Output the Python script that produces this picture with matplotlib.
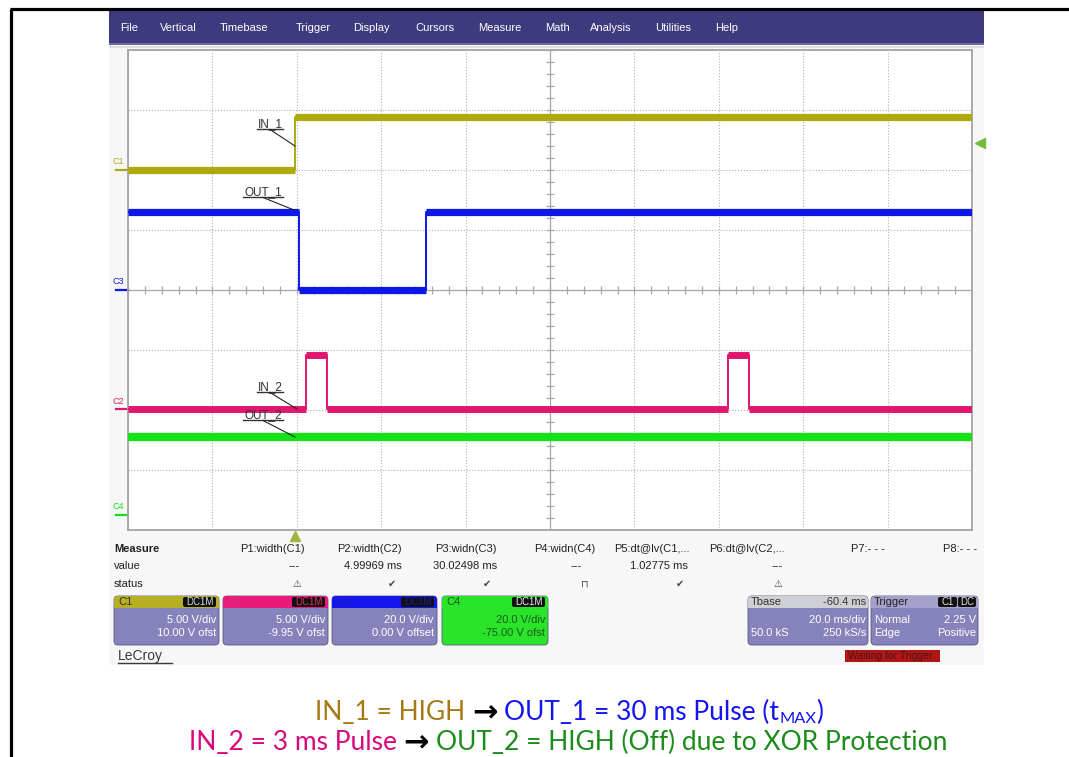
import numpy as np
import matplotlib
matplotlib.use("Agg")
import matplotlib.pyplot as plt
from matplotlib.patches import FancyBboxPatch, Rectangle
from matplotlib.collections import LineCollection

# ------------------------------------------------------------------ data
menu_items = ["File", "Vertical", "Timebase", "Trigger", "Display", "Cursors",
              "Measure", "Math", "Analysis", "Utilities", "Help"]
time_per_div = 20.0      # ms/div
tbase = -60.4            # ms
n_xdiv, n_ydiv = 10, 8
trigger_level = 2.25     # V on C1

channels = ["C1", "C2", "C3", "C4"]
volts_per_div = [5.0, 5.0, 20.0, 20.0]
offsets = [10.0, -9.95, 0.0, -75.0]
vdiv_labels = ["5.00 V/div", "5.00 V/div", "20.0 V/div", "20.0 V/div"]
offset_labels = ["10.00 V ofst", "-9.95 V ofst", "0.00 V offset", "-75.00 V ofst"]

# waveforms: edge times (ms, trigger = 0) and the level (V) held between edges
c1_edges = [0.0]
c1_levels = [0.0, 4.4]
c2_edges = [2.5, 7.5, 102.6, 107.6]
c2_levels = [0.0, 4.5, 0.0, 4.5, 0.0]
c3_edges = [1.03, 31.05]
c3_levels = [26.0, 0.0, 26.0]
c4_edges = []
c4_levels = [26.0]

meas_names = ["P1:width(C1)", "P2:width(C2)", "P3:widn(C3)", "P4:widn(C4)",
              "P5:dt@lv(C1,...", "P6:dt@lv(C2,...", "P7:- - -", "P8:- - -"]
meas_values = ["---", "4.99969 ms", "30.02498 ms", "---", "1.02775 ms", "---", "", ""]
meas_status = ["\u26a0", "\u2714", "\u2714", "\u2293", "\u2714", "\u26a0", "", ""]

tbase_label = "-60.4 ms"
tdiv_label = "20.0 ms/div"
samples_label = "50.0 kS"
rate_label = "250 kS/s"

# ------------------------------------------------------------------ styles
W, H = 1069, 757
ch_colors = {"C1": "#aea90c", "C2": "#e0176f", "C3": "#0c18e6", "C4": "#16e016"}
box_hdr = {"C1": "#b8b024", "C2": "#ea1a7c", "C3": "#1616ea", "C4": "#2ae42a"}
lav = "#8682bc"
txtfont = "Liberation Sans"

fig = plt.figure(figsize=(W / 100, H / 100), dpi=100)
axc = fig.add_axes([0, 0, 1, 1])
axc.set_xlim(0, W)
axc.set_ylim(H, 0)
axc.axis("off")

# outer frame
axc.plot([10.5, 10.5], [8.5, H], color="black", lw=2.3, solid_capstyle="butt")
axc.plot([9.5, W], [8.5, 8.5], color="black", lw=2.3, solid_capstyle="butt")

# scope screen background + menu bar
axc.add_patch(Rectangle((109, 45), 875, 620, fc="#f7f7f7", ec="none"))
axc.add_patch(Rectangle((109, 10), 875, 35, fc="#3e3a7e", ec="none"))
axc.add_patch(Rectangle((109, 43), 875, 2, fc="#6c69a4", ec="none"))
axc.add_patch(Rectangle((109, 46), 875, 1.5, fc="#dcdce4", ec="none"))
menu_x = [120, 160, 220, 296, 353, 415, 478, 545, 590, 655, 715]
for mx, item in zip(menu_x, menu_items):
    axc.text(mx, 28, item, color="white", fontsize=8, family=txtfont,
             ha="left", va="center")

# ------------------------------------------------------------------ graticule
GL, GR, GT, GB = 128, 972, 50, 530
ax = fig.add_axes([GL / W, 1 - GB / H, (GR - GL) / W, (GB - GT) / H], zorder=2)
center = -tbase
xmin = center - n_xdiv / 2 * time_per_div
xmax = center + n_xdiv / 2 * time_per_div
ax.set_xlim(xmin, xmax)
ax.set_ylim(-n_ydiv / 2, n_ydiv / 2)
ax.set_xticks(np.linspace(xmin, xmax, n_xdiv + 1))
ax.set_yticks(np.linspace(-n_ydiv / 2, n_ydiv / 2, n_ydiv + 1))
ax.tick_params(length=0, labelbottom=False, labelleft=False)
ax.grid(True, color="#b0b0b0", lw=0.8, ls=(0, (1, 1.6)))
ax.set_axisbelow(True)
for s in ax.spines.values():
    s.set_color("#a4a4a4")
    s.set_linewidth(1.3)
ax.set_facecolor("white")

ax.axvline(center, color="#a8a8a8", lw=0.9, zorder=1)
ax.axhline(0, color="#a8a8a8", lw=0.9, zorder=1)
tx = time_per_div / 84.4 * 4
ty = 4 / 60
segs = [[(center - tx, y), (center + tx, y)] for y in np.arange(-4, 4.001, 0.2)]
segs += [[(x, -ty), (x, ty)] for x in np.arange(xmin, xmax + 0.001, time_per_div / 5)]
ax.add_collection(LineCollection(segs, colors="#a8a8a8", lw=0.9, zorder=1))

# ------------------------------------------------------------------ traces
def draw_trace(edges, levels, ch, lw):
    i = channels.index(ch)
    t = [xmin] + list(edges) + [xmax]
    d = [(v + offsets[i]) / volts_per_div[i] for v in levels]
    col = ch_colors[ch]
    ax.step(t, d + [d[-1]], where="post", color=col, lw=1.4, zorder=3)
    ax.hlines(d, t[:-1], t[1:], color=col, lw=lw, zorder=3)

draw_trace(c4_edges, c4_levels, "C4", 6.0)
draw_trace(c2_edges, c2_levels, "C2", 5.0)
draw_trace(c3_edges, c3_levels, "C3", 5.2)
draw_trace(c1_edges, c1_levels, "C1", 5.2)

# channel ground markers on the left
yt = ax.get_yaxis_transform()
for i, ch in enumerate(channels):
    g = offsets[i] / volts_per_div[i]
    ax.plot([-0.014, 0], [g, g], color=ch_colors[ch], lw=1.6, transform=yt, clip_on=False)
    ax.text(-0.011, g + 0.06, ch, color=ch_colors[ch], fontsize=6.5, family=txtfont,
            transform=yt, ha="center", va="bottom", clip_on=False)

# trigger markers
ax.plot([1.009], [(trigger_level + offsets[0]) / volts_per_div[0]], marker="<", ms=7,
        color="#72bb3c", transform=yt, clip_on=False, zorder=5)
xt = ax.get_xaxis_transform()
ax.plot([0.0], [-0.012], marker="^", ms=7, color="#a2b43c", transform=xt,
        clip_on=False, zorder=5)

# ------------------------------------------------------------------ trace labels (overlay)
axo = fig.add_axes([0, 0, 1, 1], zorder=5)
axo.set_xlim(0, W)
axo.set_ylim(H, 0)
axo.axis("off")
axo.patch.set_alpha(0)

def label(text, cx, base, x0, x1, leader_end):
    axo.text(cx, base, text, fontsize=8.5, family=txtfont, color="#333333",
             ha="center", va="baseline")
    axo.plot([x0, x1], [base + 1.8, base + 1.8], color="#333333", lw=1.0)
    axo.plot([cx, leader_end[0]], [base + 2, leader_end[1]], color="#222222", lw=0.8)

label("IN_1", 270, 127.5, 257, 283, (295, 146))
label("OUT_1", 263, 195.5, 243, 283, (294, 210))
label("IN_2", 270, 390.5, 257, 283, (297, 409))
label("OUT_2", 263, 418.5, 243, 283, (295, 437))

# ------------------------------------------------------------------ measure table
axc.text(114, 549, "Measure", fontsize=8, family=txtfont, weight="bold", color="#222",
         va="center", ha="left")
axc.text(114, 566, "value", fontsize=8, family=txtfont, color="#222", va="center")
axc.text(114, 584, "status", fontsize=8, family=txtfont, color="#222", va="center")
col_right = [305, 402, 497, 595, 690, 785, 885, 977]
val_right = [300, 402, 497, 582, 688, 783, 885, 977]
stat_x = [297, 392, 487, 585, 680, 778, 0, 0]
for j in range(len(meas_names)):
    axc.text(col_right[j], 549, meas_names[j], fontsize=8, family=txtfont, color="#222",
             ha="right", va="center")
    if meas_values[j]:
        axc.text(val_right[j], 566, meas_values[j], fontsize=8, family=txtfont,
                 color="#222", ha="right", va="center")
    if meas_status[j]:
        axc.text(stat_x[j], 584, meas_status[j], fontsize=7, family="DejaVu Sans",
                 color="#444", ha="center", va="center")

# ------------------------------------------------------------------ info boxes
def rbox(x0, y0, w, h, fc, r=4, z=3):
    axc.add_patch(FancyBboxPatch((x0, y0), w, h, boxstyle=f"round,pad=0,rounding_size={r}",
                                 fc=fc, ec="#5a5880", lw=0.6, zorder=z))

def badge(x0, x1, yc, text, tc):
    axc.add_patch(FancyBboxPatch((x0, yc - 5), x1 - x0, 10,
                                 boxstyle="round,pad=0,rounding_size=2",
                                 fc="#111111", ec="none", zorder=5))
    axc.text((x0 + x1) / 2, yc, text, fontsize=7, family=txtfont, color=tc,
             ha="center", va="center", zorder=6)

box_x = [114, 223, 332, 442]
box_w = [105, 105, 105, 106]
by0, bh, hh = 596, 49, 12
badge_tc = {"C1": "#e0e0e0", "C2": "#e0306a", "C3": "#1a1aa0", "C4": "#f0f0f0"}
name_tc = {"C1": "#333333", "C2": "#d0307a", "C3": "#2020c0", "C4": "#225522"}
for i, ch in enumerate(channels):
    x0, w = box_x[i], box_w[i]
    body = box_hdr[ch] if ch == "C4" else lav
    rbox(x0, by0, w, bh, body)
    axc.add_patch(FancyBboxPatch((x0, by0), w, hh, boxstyle="round,pad=0,rounding_size=4",
                                 fc=box_hdr[ch], ec="none", zorder=4))
    axc.add_patch(Rectangle((x0, by0 + hh / 2), w, hh / 2, fc=box_hdr[ch], ec="none", zorder=4))
    axc.text(x0 + 4, by0 + hh / 2, ch, fontsize=8, family=txtfont, color=name_tc[ch],
             ha="left", va="center", zorder=6)
    badge(x0 + w - 36, x0 + w - 3, by0 + hh / 2, "DC1M", badge_tc[ch])
    tc = "#1c5c1c" if ch == "C4" else "white"
    axc.text(x0 + w - 3, 620, vdiv_labels[i], fontsize=8, family=txtfont, color=tc,
             ha="right", va="center", zorder=6)
    axc.text(x0 + w - 3, 633.5, offset_labels[i], fontsize=8, family=txtfont, color=tc,
             ha="right", va="center", zorder=6)

# timebase box
tx0, tw = 748, 120
rbox(tx0, by0, tw, bh, lav)
axc.add_patch(FancyBboxPatch((tx0, by0), tw, hh, boxstyle="round,pad=0,rounding_size=4",
                             fc="#cfcfd6", ec="none", zorder=4))
axc.add_patch(Rectangle((tx0, by0 + hh / 2), tw, hh / 2, fc="#cfcfd6", ec="none", zorder=4))
axc.text(tx0 + 3, by0 + hh / 2, "Tbase", fontsize=8, family=txtfont, color="#333",
         va="center", zorder=6)
axc.text(tx0 + tw - 2, by0 + hh / 2, tbase_label, fontsize=8, family=txtfont, color="#333",
         va="center", ha="right", zorder=6)
axc.text(tx0 + tw - 2, 620, tdiv_label, fontsize=8, family=txtfont, color="white",
         va="center", ha="right", zorder=6)
axc.text(tx0 + 3, 633.5, samples_label, fontsize=8, family=txtfont, color="white",
         va="center", ha="left", zorder=6)
axc.text(tx0 + tw - 2, 633.5, rate_label, fontsize=8, family=txtfont, color="white",
         va="center", ha="right", zorder=6)

# trigger box
gx0, gw = 871, 107
rbox(gx0, by0, gw, bh, lav)
axc.add_patch(FancyBboxPatch((gx0, by0), gw, hh, boxstyle="round,pad=0,rounding_size=4",
                             fc="#a4a2cc", ec="none", zorder=4))
axc.add_patch(Rectangle((gx0, by0 + hh / 2), gw, hh / 2, fc="#a4a2cc", ec="none", zorder=4))
axc.text(gx0 + 3, by0 + hh / 2, "Trigger", fontsize=8, family=txtfont, color="#222",
         va="center", zorder=6)
badge(gx0 + 67, gx0 + 86, by0 + hh / 2, "C1", "#e8e8e8")
badge(gx0 + 87, gx0 + 105, by0 + hh / 2, "DC", "#e8e8e8")
axc.text(gx0 + 3, 620, "Normal", fontsize=8, family=txtfont, color="white", va="center", zorder=6)
axc.text(gx0 + gw - 2, 620, f"{trigger_level:.2f} V", fontsize=8, family=txtfont,
         color="white", va="center", ha="right", zorder=6)
axc.text(gx0 + 3, 633.5, "Edge", fontsize=8, family=txtfont, color="white", va="center", zorder=6)
axc.text(gx0 + gw - 2, 633.5, "Positive", fontsize=8, family=txtfont, color="white",
         va="center", ha="right", zorder=6)

# LeCroy and status
axc.text(118, 660, "LeCroy", fontsize=10, family=txtfont, color="#3a3a3a", va="baseline")
axc.plot([118, 172], [662.5, 662.5], color="#3a3a3a", lw=1.0)
axc.add_patch(Rectangle((845, 650), 95, 12, fc="#b01616", ec="none", zorder=3))
axc.text(848, 656, "Waiting for Trigger", fontsize=7.5, family=txtfont, color="#4a1818",
         va="center", ha="left", zorder=4)

# ------------------------------------------------------------------ caption
fig.canvas.draw()
rend = fig.canvas.get_renderer()
cap_font = ["Lato", "DejaVu Sans"]

def rich_line(parts, base, cx, fs):
    items = []
    for s, c, kind in parts:
        if kind == "gap":
            items.append((None, fs * 100 / 72 * 0.26))
            continue
        size = fs * 0.62 if kind == "sub" else fs
        yy = base + (fs * 0.17 if kind == "sub" else 0)
        wgt = "bold" if kind == "arrow" else "normal"
        fam = ["DejaVu Sans"] if kind == "arrow" else cap_font
        t = axc.text(0, yy, s, color=c, fontsize=size * (1.15 if kind == "arrow" else 1),
                     family=fam, weight=wgt, ha="left", va="baseline")
        items.append((t, t.get_window_extent(rend).width))
    total = sum(w for _, w in items)
    x = cx - total / 2
    for t, w in items:
        if t is not None:
            t.set_x(x)
        x += w

gold, blue, mag, green = "#a67a12", "#1414f0", "#d8087a", "#1a8c1a"
rich_line([("IN_1 = HIGH", gold, "n"), (None, None, "gap"), ("\u2192", "black", "arrow"),
           (None, None, "gap"), ("OUT_1 = 30 ms Pulse (t", blue, "n"), ("MAX", blue, "sub"),
           (")", blue, "n")], 720, 569, 19)
rich_line([("IN_2 = 3 ms Pulse", mag, "n"), (None, None, "gap"), ("\u2192", "black", "arrow"),
           (None, None, "gap"),
           ("OUT_2 = HIGH (Off) due to XOR Protection", green, "n")], 750, 568, 19)

fig.savefig("out.png", dpi=100)
